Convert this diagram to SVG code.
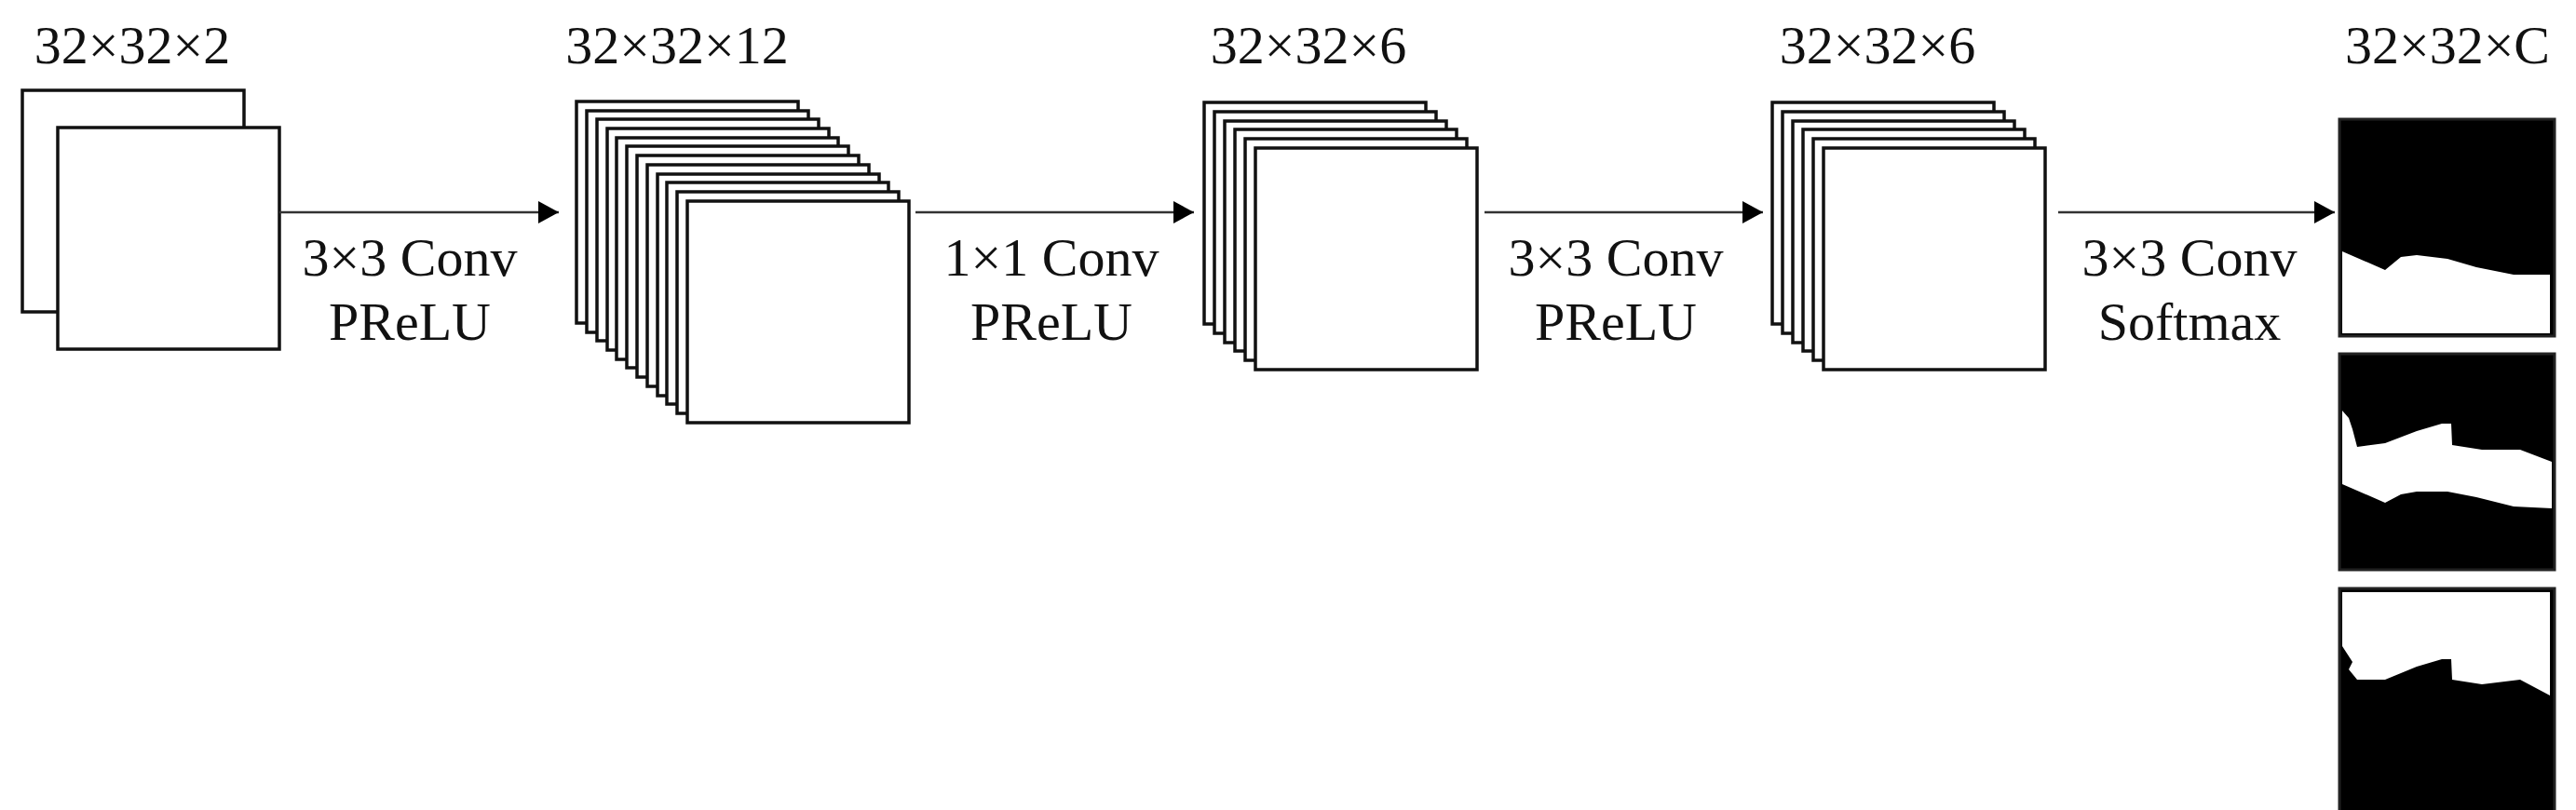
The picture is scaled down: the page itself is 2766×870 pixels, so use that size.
<svg xmlns="http://www.w3.org/2000/svg" width="2766" height="870" viewBox="0 0 2766 870">
<style>
.t{font-family:"Liberation Serif","Times New Roman",serif;font-size:58px;fill:#111;text-anchor:middle}
.f{fill:#fff;stroke:#111;stroke-width:3.5}
.c{stroke:#333;stroke-width:2.5;fill:none}
</style>
<defs>
<marker id="ah" markerWidth="22" markerHeight="24" refX="22" refY="12" orient="auto" markerUnits="userSpaceOnUse"><path d="M0,0 L22,12 L0,24 Z" fill="#000"/></marker>
<rect id="L" class="f" width="238" height="238"/>
</defs>
<rect width="2766" height="870" fill="#fff"/>
<g id="input">
<text class="t" x="142" y="68">32×32×2</text>
<use href="#L" x="24" y="97"/><use href="#L" x="62" y="137"/>
</g>
<g id="layer1">
<text class="t" x="727" y="68">32×32×12</text>
<use href="#L" x="619" y="109"/><use href="#L" x="630" y="119"/><use href="#L" x="641" y="128"/><use href="#L" x="652" y="138"/><use href="#L" x="662" y="148"/><use href="#L" x="673" y="157"/><use href="#L" x="684" y="167"/><use href="#L" x="695" y="177"/><use href="#L" x="706" y="187"/><use href="#L" x="716" y="196"/><use href="#L" x="727" y="206"/><use href="#L" x="738" y="216"/>
</g>
<g id="layer2">
<text class="t" x="1405" y="68">32×32×6</text>
<use href="#L" x="1293" y="110"/><use href="#L" x="1304" y="120"/><use href="#L" x="1315" y="130"/><use href="#L" x="1326" y="139"/><use href="#L" x="1337" y="149"/><use href="#L" x="1348" y="159"/>
</g>
<g id="layer3">
<text class="t" x="2016" y="68">32×32×6</text>
<use href="#L" x="1903" y="110"/><use href="#L" x="1914" y="120"/><use href="#L" x="1925" y="130"/><use href="#L" x="1936" y="139"/><use href="#L" x="1947" y="149"/><use href="#L" x="1958" y="159"/>
</g>
<g id="output">
<text class="t" x="2628" y="68">32×32×C</text>
<rect x="2512" y="128" width="231" height="233" fill="#000" stroke="#222" stroke-width="3"/>
<path d="M2515,270 L2561,290 L2578,276 L2595,274 L2628,278 L2659,287 L2699,295 L2738,295 L2738,358 L2515,358 Z" fill="#fff"/>
<rect x="2512" y="380" width="231" height="232" fill="#000" stroke="#222" stroke-width="3"/>
<path d="M2515,441 L2522,449 L2526,461 L2531,480 L2561,476 L2595,463 L2622,455 L2632,455 L2633,478 L2665,483 L2706,483 L2740,496 L2740,546 L2699,544 L2659,534 L2628,528 L2595,528 L2578,531 L2561,540 L2515,520 Z" fill="#fff"/>
<rect x="2512" y="632" width="231" height="245" fill="#000" stroke="#222" stroke-width="3"/>
<path d="M2515,636 L2738,636 L2738,747 L2706,730 L2665,735 L2633,730 L2632,708 L2622,708 L2595,716 L2561,730 L2531,730 L2522,719 L2526,711 L2515,694 Z" fill="#fff"/>
</g>
<g id="connectors">
<line class="c" x1="300" y1="228" x2="600" y2="228" marker-end="url(#ah)"/>
<line class="c" x1="983" y1="228" x2="1282" y2="228" marker-end="url(#ah)"/>
<line class="c" x1="1594" y1="228" x2="1893" y2="228" marker-end="url(#ah)"/>
<line class="c" x1="2210" y1="228" x2="2507" y2="228" marker-end="url(#ah)"/>
<text class="t" x="440" y="296">3×3 Conv</text><text class="t" x="440" y="365">PReLU</text>
<text class="t" x="1129" y="296">1×1 Conv</text><text class="t" x="1129" y="365">PReLU</text>
<text class="t" x="1735" y="296">3×3 Conv</text><text class="t" x="1735" y="365">PReLU</text>
<text class="t" x="2351" y="296">3×3 Conv</text><text class="t" x="2351" y="365">Softmax</text>
</g>
</svg>
